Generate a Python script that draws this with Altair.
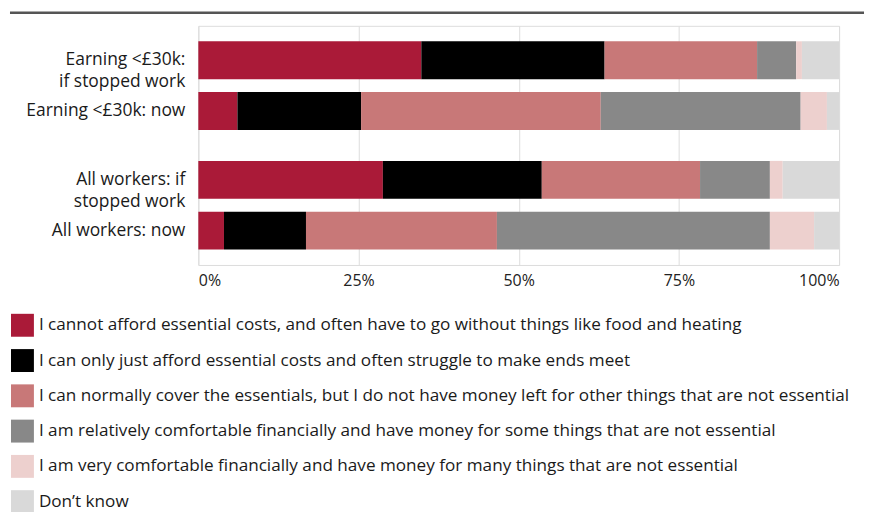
import altair as alt
import pandas as pd

groups = ["Earning <£30k", "All workers"]
statuses = ["if stopped work", "now"]
row_labels = [
    "Earning <£30k:\nif stopped work",
    "Earning <£30k: now",
    "All workers: if\nstopped work",
    "All workers: now",
]

responses = [
    "I cannot afford essential costs, and often have to go without things like food and heating",
    "I can only just afford essential costs and often struggle to make ends meet",
    "I can normally cover the essentials, but I do not have money left for other things that are not essential",
    "I am relatively comfortable financially and have money for some things that are not essential",
    "I am very comfortable financially and have money for many things that are not essential",
    "Don\u2019t know",
]
colors = ["#aa1a38", "#000000", "#c87878", "#888888", "#edd0ce", "#d9d9d9"]

earn_stop = [34.8, 28.6, 23.8, 6.1, 0.9, 5.8]
earn_now = [6.1, 19.3, 37.4, 31.2, 4.1, 1.9]
all_stop = [28.8, 24.8, 24.7, 10.9, 2.0, 8.8]
all_now = [4.0, 12.8, 29.8, 42.6, 6.9, 3.9]

tick_values = [0, 0.25, 0.5, 0.75, 1.0]

series = [
    (groups[0], statuses[0], row_labels[0], earn_stop),
    (groups[0], statuses[1], row_labels[1], earn_now),
    (groups[1], statuses[0], row_labels[2], all_stop),
    (groups[1], statuses[1], row_labels[3], all_now),
]

recs = []
lab_recs = []
for g, s, lab, vals in series:
    lab_recs.append({"group": g, "status": s, "label": lab})
    for i, (resp, v) in enumerate(zip(responses, vals)):
        recs.append({"group": g, "status": s, "response": resp, "value": v / 100.0, "idx": i})
df = pd.DataFrame(recs)
lab_df = pd.DataFrame(lab_recs)

FONT = "Open Sans"

y_enc = alt.Y(
    "group:N",
    sort=groups,
    axis=None,
    scale=alt.Scale(paddingInner=0, paddingOuter=0),
)
yoff_enc = alt.YOffset(
    "status:N",
    sort=statuses,
    scale=alt.Scale(paddingInner=0.255, paddingOuter=0.305),
)
x_scale = alt.Scale(domain=[0, 1])

bars = alt.Chart(df).mark_bar().encode(
    y=y_enc,
    yOffset=yoff_enc,
    x=alt.X(
        "value:Q",
        stack="zero",
        scale=x_scale,
        axis=alt.Axis(
            title=None,
            values=tick_values,
            format=".0%",
            labelFont=FONT,
            labelFontSize=16,
            labelColor="#222222",
            labelPadding=8,
            ticks=False,
            domain=False,
            grid=True,
            gridColor="#dddddd",
            gridWidth=1,
        ),
    ),
    color=alt.Color(
        "response:N",
        scale=alt.Scale(domain=responses, range=colors),
        sort=responses,
        legend=alt.Legend(
            title=None,
            orient="none",
            legendX=-188,
            legendY=289,
            direction="vertical",
            symbolType="square",
            symbolSize=529,
            symbolStrokeWidth=0,
            labelFontSize=17.2,
            labelFont=FONT,
            labelColor="#1a1a1a",
            labelLimit=0,
            labelOffset=5,
            rowPadding=12.4,
        ),
    ),
    order=alt.Order("idx:Q", sort="ascending"),
)

labels = alt.Chart(lab_df).mark_text(
    align="right",
    baseline="middle",
    dx=-13,
    lineBreak="\n",
    lineHeight=22,
    font=FONT,
    fontSize=17.5,
    color="#1a1a1a",
).encode(
    x=alt.value(0),
    y=y_enc,
    yOffset=yoff_enc,
    text="label:N",
)

top_rule = alt.Chart(pd.DataFrame({"a": [0]})).mark_rule(
    color="#555555", strokeWidth=2.5
).encode(x=alt.value(-189), x2=alt.value(668), y=alt.value(-13))

chart = (
    alt.layer(bars, labels, top_rule)
    .properties(
        width=643,
        height=240,
        padding={"left": 0, "top": 2, "right": 0, "bottom": 0},
    )
    .configure_view(stroke=None)
    .configure(font=FONT)
)

chart.save("out.html", embed_options={"renderer": "svg", "actions": False})
